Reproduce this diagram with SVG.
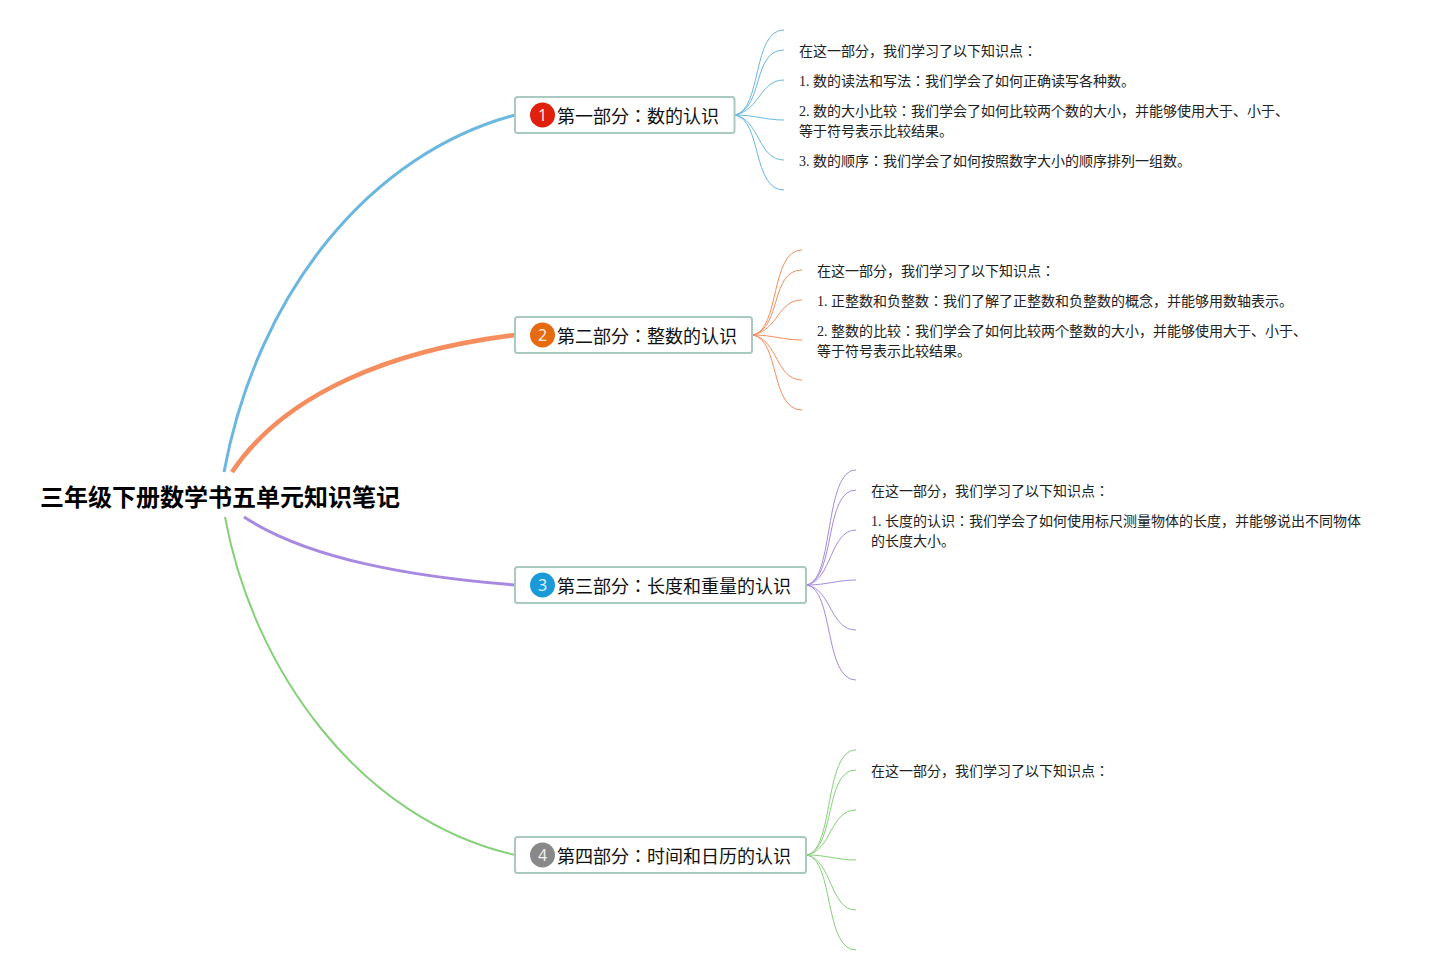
<svg xmlns="http://www.w3.org/2000/svg" width="1431" height="975" viewBox="0 0 1431 975">
<style>
text{font-family:"Liberation Serif","Noto Sans CJK JP",serif;fill:#222}
.t{font-size:14px}
.n{font-size:18px;fill:#111}
.title{font-size:24px;font-weight:bold;fill:#000}
.box{fill:#fff;stroke:#a9c9c1;stroke-width:2}
.d{font-family:"Noto Sans","DejaVu Sans",sans-serif;font-size:16px;fill:#fff;text-anchor:middle;fill-opacity:.9}
path{fill:none}
.b1{stroke:#6bb7e0}.b2{stroke:#f58d5e}.b3{stroke:#a78ae0}.b4{stroke:#86d07a}
.s{stroke-width:1}
</style>
<rect width="1431" height="975" fill="#fff"/>
<g id="connectors">
<path class="b1" stroke-width="3" d="M224 472C258 290 372 153 515 115"/>
<path class="b2" stroke-width="4.5" d="M232 472C285 393 392 350 515 335"/>
<path class="b3" stroke-width="3" d="M244 517C310 560 415 577 515 585"/>
<path class="b4" stroke-width="2" d="M225 517C253 670 360 820 515 855"/>
<g class="s b1">
<path d="M735 115C762 110 752 30 784 30"/><path d="M735 115C764 108 752 50 784 50"/><path d="M735 115C760 110 760 80 784 80"/><path d="M735 115C755 115 765 120 784 120"/><path d="M735 115C760 120 758 160 784 160"/><path d="M735 115C762 120 752 190 784 190"/>
</g>
<g class="s b2">
<path d="M753 335C780 330 770 250 802 250"/><path d="M753 335C782 328 770 270 802 270"/><path d="M753 335C778 330 778 300 802 300"/><path d="M753 335C773 335 783 340 802 340"/><path d="M753 335C778 340 776 380 802 380"/><path d="M753 335C780 340 770 410 802 410"/>
</g>
<g class="s b3">
<path d="M807 585C834 580 824 470 856 470"/><path d="M807 585C836 578 824 490 856 490"/><path d="M807 585C832 580 830 530 856 530"/><path d="M807 585C827 585 837 580 856 580"/><path d="M807 585C832 590 830 630 856 630"/><path d="M807 585C834 590 824 680 856 680"/>
</g>
<g class="s b4">
<path d="M807 855C834 850 824 750 856 750"/><path d="M807 855C836 848 824 770 856 770"/><path d="M807 855C832 850 830 810 856 810"/><path d="M807 855C827 855 837 860 856 860"/><path d="M807 855C832 860 830 910 856 910"/><path d="M807 855C834 860 824 950 856 950"/>
</g>
</g>
<g id="root"><text class="title" x="40" y="506">三年级下册数学书五单元知识笔记</text></g>
<g id="node1">
<rect class="box" x="515" y="97" width="219.500" height="36" rx="2.500"/>
<circle cx="542.500" cy="115" r="12.500" fill="#e0200c"/><text class="d" x="542.500" y="121">1</text>
<text class="n" x="557" y="123">第一部分：数的认识</text>
</g>
<g id="node2">
<rect class="box" x="515" y="317" width="237" height="36" rx="2.500"/>
<circle cx="542.500" cy="335" r="12.500" fill="#e66a10"/><text class="d" x="542.500" y="341">2</text>
<text class="n" x="557" y="343">第二部分：整数的认识</text>
</g>
<g id="node3">
<rect class="box" x="515" y="567" width="291" height="36" rx="2.500"/>
<circle cx="542.500" cy="585" r="12.500" fill="#1a9ad9"/><text class="d" x="542.500" y="591">3</text>
<text class="n" x="557" y="593">第三部分：长度和重量的认识</text>
</g>
<g id="node4">
<rect class="box" x="515" y="837" width="291" height="36" rx="2.500"/>
<circle cx="542.500" cy="855" r="12.500" fill="#888"/><text class="d" x="542.500" y="861">4</text>
<text class="n" x="557" y="863">第四部分：时间和日历的认识</text>
</g>
<g id="notes1" class="t">
<text class="t" x="799" y="56">在这一部分，我们学习了以下知识点：</text>
<text class="t" x="799" y="86">1. 数的读法和写法：我们学会了如何正确读写各种数。</text>
<text class="t" x="799" y="116">2. 数的大小比较：我们学会了如何比较两个数的大小，并能够使用大于、小于、</text>
<text class="t" x="799" y="136">等于符号表示比较结果。</text>
<text class="t" x="799" y="166">3. 数的顺序：我们学会了如何按照数字大小的顺序排列一组数。</text>
</g>
<g id="notes2">
<text class="t" x="817" y="276">在这一部分，我们学习了以下知识点：</text>
<text class="t" x="817" y="306">1. 正整数和负整数：我们了解了正整数和负整数的概念，并能够用数轴表示。</text>
<text class="t" x="817" y="336">2. 整数的比较：我们学会了如何比较两个整数的大小，并能够使用大于、小于、</text>
<text class="t" x="817" y="356">等于符号表示比较结果。</text>
</g>
<g id="notes3">
<text class="t" x="871" y="496">在这一部分，我们学习了以下知识点：</text>
<text class="t" x="871" y="526">1. 长度的认识：我们学会了如何使用标尺测量物体的长度，并能够说出不同物体</text>
<text class="t" x="871" y="546">的长度大小。</text>
</g>
<g id="notes4">
<text class="t" x="871" y="776">在这一部分，我们学习了以下知识点：</text>
</g>
</svg>
